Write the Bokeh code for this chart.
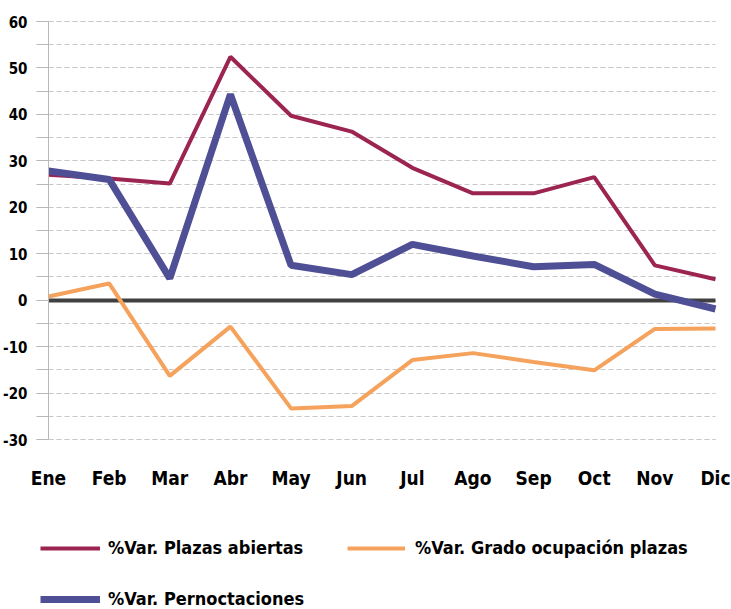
from bokeh.plotting import figure
from bokeh.models import Range1d, FixedTicker, Grid, Legend, LegendItem, ColumnDataSource
from bokeh.embed import file_html
from bokeh.resources import INLINE

months = ["Ene", "Feb", "Mar", "Abr", "May", "Jun", "Jul", "Ago", "Sep", "Oct", "Nov", "Dic"]
plazas = [27.0, 26.2, 25.1, 52.4, 39.7, 36.3, 28.5, 23.0, 23.0, 26.5, 7.5, 4.5]
grado = [0.8, 3.6, -16.3, -5.7, -23.3, -22.8, -12.9, -11.4, -13.3, -15.1, -6.2, -6.1]
pernoct = [27.8, 26.0, 4.7, 44.3, 7.5, 5.5, 12.0, 9.5, 7.2, 7.7, 1.3, -1.9]
series_labels = ["%Var. Plazas abiertas", "%Var. Grado ocupación plazas", "%Var. Pernoctaciones"]
y_min, y_max = -30, 60
y_ticks = list(range(y_min, y_max + 1, 10))
y_minor = list(range(y_min, y_max + 1, 5))

FONT = "DejaVu Sans Condensed"
C_PLAZAS = "#9C2450"
C_GRADO = "#F5A25D"
C_PERN = "#4F4F95"
C_GRID = "#c8c8c8"
C_AXIS = "#b8b8b8"

# layout (pixels)
W, H = 731, 609
AX_LEFT, AX_RIGHT = 48, 715     # pixel x of first / last month
AX_TOP, AX_BOTTOM = 21, 439     # pixel y of 60 / -30
n = len(months)
ppx = (AX_RIGHT - AX_LEFT) / (n - 1)
ppy = (AX_BOTTOM - AX_TOP) / (y_max - y_min)
x_start = 0 - AX_LEFT / ppx
x_end = (n - 1) + (W - AX_RIGHT) / ppx
y_start = y_min - (H - AX_BOTTOM) / ppy
y_end = y_max + AX_TOP / ppy

xs = list(range(n))
src = ColumnDataSource(dict(x=xs, plazas=plazas, grado=grado, pernoct=pernoct))

p = figure(width=W, height=H, output_backend="svg", toolbar_location=None,
           x_range=Range1d(x_start, x_end), y_range=Range1d(y_start, y_end),
           min_border_left=0, min_border_right=0, min_border_top=0, min_border_bottom=0)
p.outline_line_color = None
p.background_fill_color = "white"
p.border_fill_color = "white"

has_cb = "cross_bounds" in Grid.properties()

p.xgrid.grid_line_color = None
yg = p.ygrid[0]
yg.ticker = FixedTicker(ticks=y_ticks, minor_ticks=y_minor)
yg.grid_line_color = C_GRID
yg.grid_line_dash = "5 3"
yg.minor_grid_line_color = C_GRID
yg.minor_grid_line_dash = "5 3"
if has_cb:
    yg.cross_bounds = (0, n - 1)

# zero line as a bounded grid line
zg = Grid(dimension=1, ticker=FixedTicker(ticks=[0]), grid_line_color="#404040", grid_line_width=4)
if has_cb:
    zg.cross_bounds = (0, n - 1)
p.add_layout(zg)

ya = p.yaxis[0]
ya.fixed_location = 0
ya.bounds = (y_min, y_max)
ya.ticker = FixedTicker(ticks=y_ticks, minor_ticks=y_minor)
ya.major_label_overrides = {t: str(t) for t in y_ticks}
ya.axis_line_color = C_AXIS
ya.major_tick_line_color = C_AXIS
ya.minor_tick_line_color = C_AXIS
ya.major_tick_out = 12
ya.major_tick_in = 0
ya.minor_tick_out = 12
ya.minor_tick_in = 0
ya.major_label_text_font = FONT
ya.major_label_text_font_style = "bold"
ya.major_label_text_font_size = "15px"
ya.major_label_text_color = "black"
ya.major_label_standoff = 9

xa = p.xaxis[0]
xa.fixed_location = y_min
xa.ticker = FixedTicker(ticks=xs)
xa.major_label_overrides = {i: m for i, m in enumerate(months)}
xa.axis_line_color = None
xa.major_tick_line_color = None
xa.minor_tick_line_color = None
xa.major_tick_out = 0
xa.major_tick_in = 0
xa.major_label_text_font = FONT
xa.major_label_text_font_style = "bold"
xa.major_label_text_font_size = "19px"
xa.major_label_text_color = "black"
xa.major_label_standoff = 27

r1 = p.line("x", "plazas", source=src, line_color=C_PLAZAS, line_width=4)
r2 = p.line("x", "grado", source=src, line_color=C_GRADO, line_width=4)
r3 = p.line("x", "pernoct", source=src, line_color=C_PERN, line_width=7)

def make_legend(label, renderer, loc, gw, standoff):
    leg = Legend(items=[LegendItem(label=label, renderers=[renderer])], location=loc,
                 padding=0, margin=0, spacing=0,
                 border_line_alpha=0, background_fill_alpha=0,
                 glyph_width=gw, glyph_height=20, label_height=20, label_standoff=standoff,
                 label_text_font=FONT, label_text_font_style="bold",
                 label_text_font_size="18px", label_text_color="black")
    p.add_layout(leg, "center")

make_legend(series_labels[0], r1, (40, 51), 60, 8)
make_legend(series_labels[1], r2, (347, 51), 58, 10)
make_legend(series_labels[2], r3, (40, 0), 60, 8)

open("out.html", "w").write(file_html(p, INLINE))
